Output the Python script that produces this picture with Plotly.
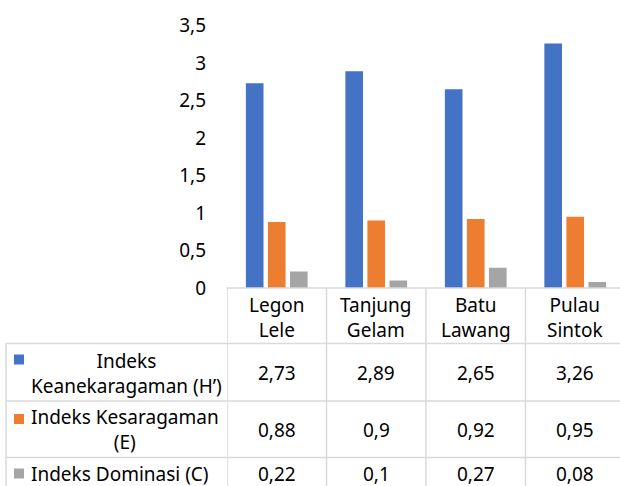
import textwrap
import plotly.graph_objects as go

# Sampling sites (categories) and index values per site
sites = ["Legon Lele", "Tanjung Gelam", "Batu Lawang", "Pulau Sintok"]
series_names = ["Indeks Keanekaragaman (H’)", "Indeks Kesaragaman (E)", "Indeks Dominasi (C)"]
h_index = [2.73, 2.89, 2.65, 3.26]
e_index = [0.88, 0.9, 0.92, 0.95]
c_index = [0.22, 0.1, 0.27, 0.08]
series_values = [h_index, e_index, c_index]
colors = ["#4472C4", "#ED7D31", "#A5A5A5"]

W, H = 620, 486
FONT = "Noto Sans"
FS = 19
GRID = "#D9D9D9"


def py(px):
    """pixel row -> paper y"""
    return 1 - px / H


def px_x(px):
    """pixel column -> paper x"""
    return px / W


def fmt(v):
    return ("%g" % v).replace(".", ",")


fig = go.Figure()
for name, vals, col in zip(series_names, series_values, colors):
    fig.add_trace(go.Bar(x=list(range(len(sites))), y=vals, name=name,
                         marker=dict(color=col, line=dict(width=0))))

plot_left = 227
y_zero_px, y_top_px = 288, 25.5

shapes = []
annotations = []

# data-table grid
row_lines = [343.5, 401, 457.5]
for r in row_lines:
    shapes.append(dict(type="line", xref="paper", yref="paper",
                       x0=px_x(6), x1=1, y0=py(r), y1=py(r),
                       line=dict(color=GRID, width=1.5)))
# top line under the bars (category axis)
shapes.append(dict(type="line", xref="paper", yref="paper",
                   x0=px_x(plot_left - 1), x1=1, y0=py(y_zero_px), y1=py(y_zero_px),
                   line=dict(color=GRID, width=1.5)))
# vertical separators between categories
for i in range(len(sites) + 1):
    shapes.append(dict(type="line", xref="x", yref="paper",
                       x0=i - 0.5, x1=i - 0.5, y0=py(y_zero_px), y1=0,
                       line=dict(color=GRID, width=1.5)))
# left border of legend column
shapes.append(dict(type="line", xref="paper", yref="paper",
                   x0=px_x(6), x1=px_x(6), y0=py(row_lines[0]), y1=0,
                   line=dict(color=GRID, width=1.5)))

# category headers
for i, s in enumerate(sites):
    annotations.append(dict(xref="x", yref="paper", x=i, y=py(317),
                            text="<br>".join(s.split(" ")), showarrow=False,
                            font=dict(family=FONT, size=FS, color="#000"),
                            xanchor="center", yanchor="middle", align="center"))

# series rows: legend key, name, values
row_text_y = [373, 429.5, 474]
row_key_y = [359.5, 419, 473.5]
for k, (name, vals, col) in enumerate(zip(series_names, series_values, colors)):
    shapes.append(dict(type="rect", xref="paper", yref="paper",
                       x0=px_x(14), x1=px_x(24),
                       y0=py(row_key_y[k] + 5), y1=py(row_key_y[k] - 5),
                       fillcolor=col, line=dict(width=0)))
    label = "<br>".join(textwrap.wrap(name, width=19))
    annotations.append(dict(xref="paper", yref="paper", x=px_x(29), y=py(row_text_y[k]),
                            text=label, showarrow=False,
                            font=dict(family=FONT, size=FS, color="#000"),
                            xanchor="left", yanchor="middle", align="center"))
    for i, v in enumerate(vals):
        annotations.append(dict(xref="x", yref="paper", x=i, y=py(row_text_y[k]),
                                text=fmt(v), showarrow=False,
                                font=dict(family=FONT, size=FS, color="#000"),
                                xanchor="center", yanchor="middle"))

fig.update_layout(
    width=W, height=H,
    margin=dict(l=0, r=0, t=0, b=0, autoexpand=False),
    paper_bgcolor="white", plot_bgcolor="white",
    separators=", ",
    barmode="group", bargap=0.335, bargroupgap=0.2,
    showlegend=False,
    font=dict(family=FONT, size=FS, color="#000"),
    xaxis=dict(domain=[px_x(plot_left), 1], range=[-0.5, 3.45], automargin=False,
               showticklabels=False, showgrid=False, zeroline=False,
               showline=False, fixedrange=True),
    yaxis=dict(domain=[py(y_zero_px), py(y_top_px)], range=[0, 3.5], dtick=0.5,
               automargin=False,
               showgrid=False, zeroline=False, showline=False,
               ticks="", ticklabelstandoff=20,
               tickfont=dict(family=FONT, size=FS, color="#000")),
    shapes=shapes,
    annotations=annotations,
)

fig.write_html("out.html")
